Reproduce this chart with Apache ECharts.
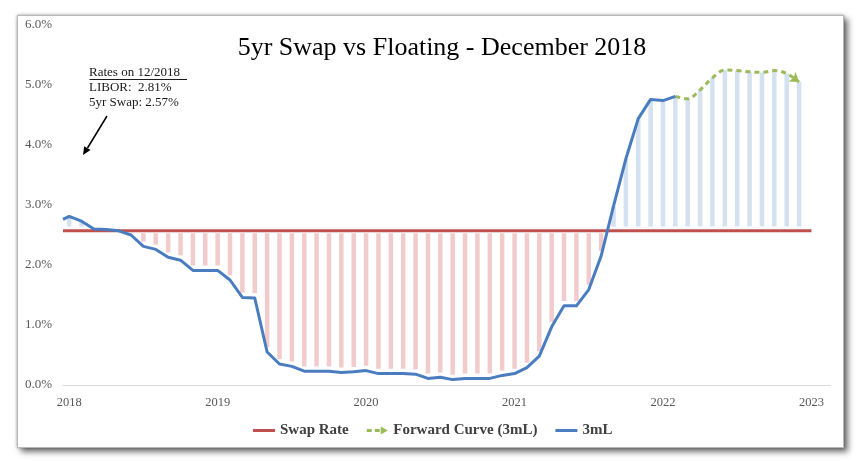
<!DOCTYPE html>
<html><head><meta charset="utf-8">
<script src="https://cdn.jsdelivr.net/npm/echarts@6/dist/echarts.min.js"></script>
<style>
html,body{margin:0;padding:0;background:#fff;}
#wrap{position:relative;width:861px;height:461px;}
#frame{position:absolute;left:17px;top:15px;width:825px;height:431px;border:1px solid #b8b8b8;background:#fff;
 box-shadow:0 0 3px rgba(0,0,0,0.35),4px 4px 6px rgba(0,0,0,0.55);}
#c{position:absolute;left:0;top:0;width:861px;height:461px;}
</style>
</head><body>
<div id="wrap"><div id="frame"></div><div id="c"></div></div>
<script>
// ---- data ----
const yearLabels = ['2018','2019','2020','2021','2022','2023'];
const yearMonths = [0, 12, 24, 36, 48, 60];          // month index of each year label
const swapRate = 2.57;
const swapSpan = [-0.5, 60];                          // month range of the swap line
const liborStartMonth = -0.5;                         // first 3mL point, then monthly from 0
const liborValues = [2.76, 2.81, 2.73, 2.60, 2.59, 2.57, 2.50, 2.31, 2.26, 2.13, 2.08,
  1.91, 1.91, 1.91, 1.75, 1.46, 1.45, 0.55, 0.35, 0.31, 0.23, 0.23, 0.23, 0.21, 0.22,
  0.24, 0.19, 0.19, 0.19, 0.18, 0.11, 0.13, 0.09, 0.11, 0.11, 0.11, 0.16, 0.19, 0.29,
  0.48, 0.97, 1.32, 1.32, 1.59, 2.15, 2.98, 3.77, 4.44, 4.76, 4.74, 4.81];
const forwardStartMonth = 49;
const forwardValues = [4.81, 4.77, 4.92, 5.12, 5.25, 5.24, 5.22, 5.21, 5.24, 5.19, 5.05];

// ---- build series data ----
const liborData = liborValues.map((v, k) => [k === 0 ? liborStartMonth : k - 1, v]);
const forwardData = forwardValues.map((v, k) => [forwardStartMonth + k, v]);
const barData = liborData.slice(1).concat(forwardData.slice(1));
const fwdSeriesData = forwardData.map((d, k) => k === forwardData.length - 1
  ? {value: d, symbol: 'arrow', symbolSize: [9, 9], symbolRotate: -127} : d);

const RED = '#c0504d', BLUE = '#4a7dc0', GREEN = '#9bbb59';
const serif = '"Liberation Serif", "DejaVu Serif", serif';

const chart = echarts.init(document.getElementById('c'));
chart.setOption({
  animation: false,
  backgroundColor: 'transparent',
  title: {
    text: '5yr Swap vs Floating - December 2018',
    left: 437, top: 30, textAlign: 'center',
    textStyle: {fontFamily: serif, fontSize: 26, fontWeight: 'normal', color: '#000'}
  },
  grid: {left: 63, right: 31, top: 25, bottom: 76},
  legend: {
    left: 248, top: 418, itemGap: 18, itemWidth: 22, itemHeight: 8,
    textStyle: {fontFamily: serif, fontSize: 15, fontWeight: 'bold', color: '#404040'},
    data: [
      {name: 'Swap Rate', icon: 'path://M0,0h22v3h-22z'},
      {name: 'Forward Curve (3mL)', icon: 'path://M0,3h5v3h-5z M8,3h5v3h-5z M14,0.5L21,4.5L14,8.5z'},
      {name: '3mL', icon: 'path://M0,0h22v3h-22z'}
    ]
  },
  xAxis: {
    type: 'value', min: -0.5, max: 61.5,
    splitLine: {show: false}, axisTick: {show: false},
    axisLine: {lineStyle: {color: '#d9d9d9', width: 1}},
    axisLabel: {
      customValues: yearMonths,
      formatter: v => yearLabels[yearMonths.indexOf(v)] || '',
      fontFamily: serif, fontSize: 12.5, color: '#595959', margin: 11
    }
  },
  yAxis: {
    type: 'value', min: 0, max: 6, interval: 1,
    splitLine: {show: false}, axisTick: {show: false}, axisLine: {show: false},
    axisLabel: {formatter: v => v.toFixed(1) + '%', fontFamily: serif, fontSize: 13, color: '#595959', margin: 11}
  },
  graphic: [
    {type: 'text', left: 89, top: 66, style: {text: 'Rates on 12/2018', fontFamily: serif, fontSize: 13, fill: '#1a1a1a'}},
    {type: 'line', shape: {x1: 89.5, y1: 79.5, x2: 187, y2: 79.5}, style: {stroke: '#1a1a1a', lineWidth: 1}},
    {type: 'text', left: 89, top: 81, style: {text: 'LIBOR:  2.81%', fontFamily: serif, fontSize: 13, fill: '#1a1a1a'}},
    {type: 'text', left: 89, top: 96, style: {text: '5yr Swap: 2.57%', fontFamily: serif, fontSize: 13, fill: '#1a1a1a'}},
    {type: 'line', shape: {x1: 107, y1: 116, x2: 87.5, y2: 148}, style: {stroke: '#000', lineWidth: 1.5}},
    {type: 'polygon', shape: {points: [[83, 155], [90.5, 150], [84.2, 146.2]]}, style: {fill: '#000'}}
  ],
  series: [
    {
      name: 'bars', type: 'custom', z: 1, silent: true,
      data: barData,
      renderItem: function (params, api) {
        const m = api.value(0), v = api.value(1);
        let top, bot, color;
        if (v >= swapRate) { bot = swapRate + 0.07; top = v; color = '#d4e1f1'; }
        else { top = swapRate - 0.04; bot = v + 0.08; color = '#f2cccc'; }
        if (top - bot <= 0.01) return null;
        const p1 = api.coord([m, top]), p2 = api.coord([m, bot]);
        const w = 4.5;
        return {type: 'rect', shape: {x: p1[0] - w / 2, y: p1[1], width: w, height: p2[1] - p1[1]},
                style: {fill: color}};
      }
    },
    {
      name: 'Swap Rate', type: 'line', z: 2, symbol: 'none',
      data: [[swapSpan[0], swapRate], [swapSpan[1], swapRate]],
      itemStyle: {color: RED}, lineStyle: {color: RED, width: 3}
    },
    {
      name: 'Forward Curve (3mL)', type: 'line', z: 3, symbol: 'none', smooth: 0.35,
      data: fwdSeriesData,
      itemStyle: {color: GREEN}, lineStyle: {color: GREEN, width: 3, type: [5, 4]}
    },
    {
      name: '3mL', type: 'line', z: 4, symbol: 'none',
      data: liborData,
      itemStyle: {color: BLUE}, lineStyle: {color: BLUE, width: 3, join: 'round'}
    }
  ]
});
</script>
</body></html>
